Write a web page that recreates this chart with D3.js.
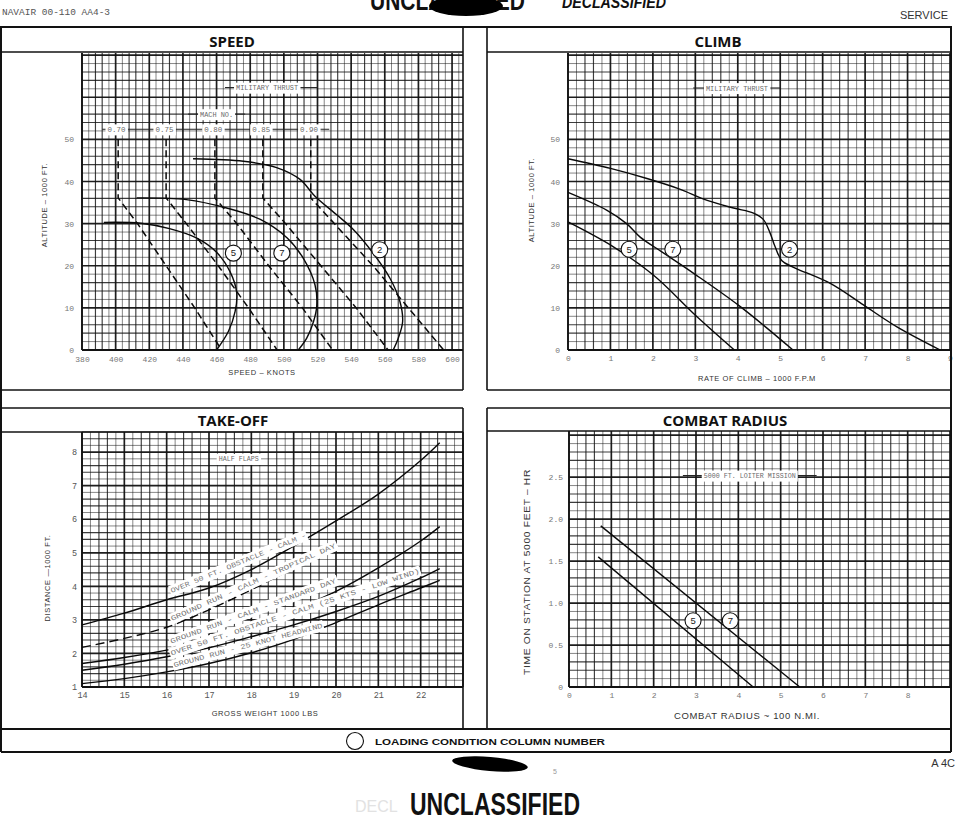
<!DOCTYPE html>
<html>
<head>
<meta charset="utf-8">
<script src="https://cdn.jsdelivr.net/npm/d3@7/dist/d3.min.js"></script>
<style>
html,body{margin:0;padding:0;background:#fff;}
svg{display:block;}
</style>
</head>
<body>
<svg id="chart" width="960" height="825"></svg>
<script>
// ================= DATA =================
// SPEED panel (speed in knots, altitude in 1000 ft)
const speedTickValues = [380,400,420,440,460,480,500,520,540,560,580,600];
const altitudeTickValues = [0,10,20,30,40,50];
const speedCurve5 = [[393,30.3],[415,30.1],[432,28.8],[448,26.6],[460,23.2],[468,18.6],[472,13.5],[471,9.1],[467,4.4],[460,0]];
const speedCurve7 = [[412.5,36.1],[442,35.7],[466,33.7],[486,31],[502,26.6],[511.5,21.8],[518.5,15.5],[519.6,10.7],[517.6,6.7],[513.6,2.8],[508.6,0]];
const speedCurve2 = [[446,45.4],[476,44.8],[495.7,43.3],[509.6,40.5],[518.5,36.5],[531.4,32.1],[541.3,28.6],[553,23],[563,17.1],[569,11.5],[570.6,6.7],[568,2.8],[565,0]];
const machNumbers = ["0.70","0.75","0.80","0.85","0.90"];
const machAltitudes = [50,36.1,30,20,10,0];
const machSpeeds = [
  [401.5,401.5,413,430,447,463],
  [430,430,442,461,479,496],
  [459,459,472,491,511,529],
  [487.5,487.5,501,522,543,562],
  [516,516,530,553,574,595]
];
const speedCircleLabels = [["5",470,23],["7",498.8,23],["2",557,23.8]];

// CLIMB panel (rate of climb 1000 fpm, altitude 1000 ft)
const climbTickValues = [0,1,2,3,4,5,6,7,8,9];
const climbCurve2 = [[0,45.4],[1.0,43.1],[1.86,40.7],[2.6,38.3],[3.28,35.5],[3.9,33.7],[4.37,32.5],[4.6,31.0],[4.76,27.8],[4.88,24.5],[5.04,21.2],[5.3,19.7],[6.18,15.8],[6.96,10.7],[7.75,5.5],[8.77,0]];
const climbCurve7 = [[0,37.4],[0.91,33.2],[1.38,30],[1.7,26.8],[2.21,23.3],[2.96,18.2],[4.06,10.3],[5.3,0]];
const climbCurve5 = [[0,30.4],[1.07,24.5],[2.01,17.8],[3.04,7.9],[3.92,0]];
const climbCircleLabels = [["5",1.44,23.9],["7",2.47,23.9],["2",5.22,23.9]];

// TAKE-OFF panel (gross weight 1000 lb, distance 1000 ft)
const weightTickValues = [14,15,16,17,18,19,20,21,22];
const distanceTickValues = [1,2,3,4,5,6,7,8];
const takeoffWeights = [14,15,16,17,18,19,20,21,22,22.45];
const over50Tropical = [2.85,3.2,3.6,3.95,4.5,5.2,5.95,6.75,7.75,8.28];
const groundRunTropicalWeights = [14,15,16,17,18,19,20];
const groundRunTropical = [2.18,2.45,2.78,3.3,3.9,4.55,5.25];
const groundRunStandard = [1.7,1.88,2.1,2.4,2.8,3.3,3.85,4.55,5.35,5.78];
const over50Wind = [1.5,1.68,1.9,2.17,2.5,2.85,3.25,3.7,4.25,4.53];
const groundRunHeadwind = [1.1,1.25,1.45,1.7,2.02,2.42,2.92,3.45,3.95,4.18];
const takeoffLabels = [
  "OVER 50 FT. OBSTACLE - CALM -",
  "GROUND RUN - CALM - TROPICAL DAY",
  "GROUND RUN - CALM - STANDARD DAY",
  "OVER 50 FT. OBSTACLE - CALM (25 KTS - LOW WIND)",
  "GROUND RUN - 25 KNOT HEADWIND"
];

// COMBAT RADIUS panel (radius 100 n.mi., time on station hr)
const radiusTickValues = [0,1,2,3,4,5,6,7,8];
const timeTickValues = [0,0.5,1.0,1.5,2.0,2.5];
const timeTickLabels = ["0","0.5","1.0","1.5","2.0","2.5"];
const combatLine7 = [[0.75,1.92],[5.45,0]];
const combatLine5 = [[0.69,1.55],[4.35,0]];
const combatCircleLabels = [["5",2.93,0.79],["7",3.81,0.79]];

// ================= DRAWING =================
const svg = d3.select("#chart");
const INK = "#121212";
const MONO = "'Liberation Mono','DejaVu Sans Mono',monospace";
const SANS = "'Liberation Sans','DejaVu Sans',Arial,sans-serif";

function makePanel(cfg) {
  const g = svg.append("g");
  const x = d3.scaleLinear().domain(cfg.xDomain).range(cfg.xRange);
  const y = d3.scaleLinear().domain(cfg.yDomain).range(cfg.yRange);
  const gridG = g.append("g");
  const nx = Math.floor((cfg.xDomain[1]-cfg.xDomain[0])/cfg.xMinor + 1e-6);
  const ny = Math.floor((cfg.yDomain[1]-cfg.yDomain[0])/cfg.yMinor + 1e-6);
  const xs = d3.range(0, nx+1).map(i => ({v: cfg.xDomain[0] + i*cfg.xMinor, major: i%5===0, half: i%5===2 || i%5===3}));
  const ys = d3.range(0, ny+1).map(i => ({v: cfg.yDomain[0] + i*cfg.yMinor, major: i%5===0, half: i%5===2 || i%5===3}));
  gridG.selectAll("line.vx").data(xs).enter().append("line")
    .attr("x1", d => x(d.v)).attr("x2", d => x(d.v))
    .attr("y1", cfg.yRange[0]).attr("y2", cfg.yRange[1])
    .attr("stroke", INK)
    .attr("stroke-width", d => d.major ? 1.7 : (d.half ? 1.15 : 0.85))
    .attr("stroke-opacity", d => d.major ? 0.95 : (d.half ? 0.82 : 0.6));
  gridG.selectAll("line.hy").data(ys).enter().append("line")
    .attr("y1", d => y(d.v)).attr("y2", d => y(d.v))
    .attr("x1", cfg.xRange[0]).attr("x2", cfg.xRange[1])
    .attr("stroke", INK)
    .attr("stroke-width", d => d.major ? 1.7 : (d.half ? 1.15 : 0.85))
    .attr("stroke-opacity", d => d.major ? 0.95 : (d.half ? 0.82 : 0.6));
  g.append("line").attr("x1", cfg.xRange[0]).attr("x2", cfg.xRange[0]).attr("y1", cfg.yRange[0]).attr("y2", cfg.yRange[1]).attr("stroke", INK).attr("stroke-width", 1.6);
  g.append("line").attr("x1", cfg.xRange[0]).attr("x2", cfg.xRange[1]).attr("y1", cfg.yRange[0]).attr("y2", cfg.yRange[0]).attr("stroke", INK).attr("stroke-width", 1.8);

  const ax = g.append("g").attr("transform", `translate(0,${cfg.yRange[0]})`)
    .call(d3.axisBottom(x).tickValues(cfg.xTicks).tickSize(0).tickPadding(cfg.xPad).tickFormat(cfg.xFormat || (d => d)));
  ax.select(".domain").remove();
  ax.selectAll("text").attr("font-family", cfg.tickFont || MONO).attr("font-size", cfg.tickSize || 8).attr("fill", cfg.tickColor || "#777");
  const ay = g.append("g").attr("transform", `translate(${cfg.xRange[0]},0)`)
    .call(d3.axisLeft(y).tickValues(cfg.yTicks).tickSize(0).tickPadding(cfg.yPad).tickFormat(cfg.yFormat || (d => d)));
  ay.select(".domain").remove();
  ay.selectAll("text").attr("font-family", cfg.tickFont || MONO).attr("font-size", cfg.tickSize || 8).attr("fill", cfg.tickColor || "#777");
  return {g, x, y};
}

function curve(p, pts, opts) {
  opts = opts || {};
  const line = d3.line().x(d => p.x(d[0])).y(d => p.y(d[1])).curve(opts.linear ? d3.curveLinear : d3.curveCatmullRom.alpha(0.5));
  p.g.append("path").attr("d", line(pts)).attr("fill", "none").attr("stroke", "#0a0a0a")
    .attr("stroke-width", opts.width || 1.4).attr("stroke-dasharray", opts.dash || null);
}

function circled(p, labels) {
  labels.forEach(([t, xv, yv]) => {
    p.g.append("circle").attr("cx", p.x(xv)).attr("cy", p.y(yv)).attr("r", 8)
      .attr("fill", "#fff").attr("stroke", "#111").attr("stroke-width", 1.1);
    p.g.append("text").attr("x", p.x(xv)).attr("y", p.y(yv) + 3.3).attr("text-anchor", "middle")
      .attr("font-family", SANS).attr("font-size", 9.5).attr("fill", "#222").text(t);
  });
}

function monoLabel(p, txt, xv, yv, opts) {
  opts = opts || {};
  const g = p.g.append("g").attr("transform", `translate(${p.x(xv)},${p.y(yv)}) rotate(${opts.angle || 0})`);
  const r = g.append("rect").attr("fill", "#fff");
  const t = g.append("text")
    .attr("text-anchor", "middle").attr("dy", "0.35em")
    .attr("font-family", MONO).attr("font-size", opts.size || 7.5)
    .attr("fill", opts.color || "#6a6a6a")
    .text(txt);
  if (opts.len) t.attr("textLength", opts.len).attr("lengthAdjust", "spacingAndGlyphs");
  const bb = t.node().getBBox();
  const pad = opts.pad == null ? 2 : opts.pad;
  r.attr("x", bb.x - pad).attr("y", bb.y - 1.5).attr("width", bb.width + 2*pad).attr("height", bb.height + 3);
  return t;
}

function guideLine(p, x0, x1, yv) {
  p.g.append("line").attr("x1", p.x(x0)).attr("x2", p.x(x1)).attr("y1", p.y(yv)).attr("y2", p.y(yv))
    .attr("stroke", "#222").attr("stroke-width", 1);
}

function axisTitle(txt, xPos, yPos, rot, size, len) {
  const t = svg.append("text")
    .attr("transform", `translate(${xPos},${yPos}) rotate(${rot})`)
    .attr("text-anchor", "middle").attr("font-family", SANS).attr("font-size", size)
    .attr("fill", "#333").attr("letter-spacing", 0.6).text(txt);
  if (len) t.attr("textLength", len).attr("lengthAdjust", "spacingAndGlyphs");
}

// ---------- SPEED ----------
const sp = makePanel({xDomain:[380,606.5], xRange:[82,463], yDomain:[0,70.5], yRange:[350,53],
  xMinor:4, yMinor:2, xTicks:speedTickValues, yTicks:altitudeTickValues, xPad:6, yPad:8});
machSpeeds.forEach(s => curve(sp, s.map((v,i) => [v, machAltitudes[i]]), {linear:true, dash:"7,4", width:1.5}));
curve(sp, speedCurve5);
curve(sp, speedCurve7);
curve(sp, speedCurve2);
guideLine(sp, 465, 520, 62.3);
monoLabel(sp, "MILITARY THRUST", 490, 62.3, {len:62});
guideLine(sp, 443, 477, 56);
monoLabel(sp, "MACH NO.", 460, 56, {len:33});
guideLine(sp, 392, 527, 52.4);
machNumbers.forEach((m, i) => monoLabel(sp, m, machSpeeds[i][0] - 1, 52.4, {len:18}));
circled(sp, speedCircleLabels);

// ---------- CLIMB ----------
const cl = makePanel({xDomain:[0,9], xRange:[568,950], yDomain:[0,70.5], yRange:[350,53],
  xMinor:0.2, yMinor:2, xTicks:climbTickValues, yTicks:altitudeTickValues, xPad:5, yPad:8});
curve(cl, climbCurve2);
curve(cl, climbCurve7);
curve(cl, climbCurve5);
guideLine(cl, 2.95, 5.0, 62.2);
monoLabel(cl, "MILITARY THRUST", 3.98, 62.2, {len:62});
circled(cl, climbCircleLabels);

// ---------- TAKE-OFF ----------
const to = makePanel({xDomain:[14,23], xRange:[82,463], yDomain:[1,8.6], yRange:[687,432],
  xMinor:0.2, yMinor:0.2, xTicks:weightTickValues, yTicks:distanceTickValues, xPad:5, yPad:5,
  tickColor:"#555", tickSize:8.5});
curve(to, takeoffWeights.map((w,i) => [w, over50Tropical[i]]));
curve(to, groundRunTropicalWeights.map((w,i) => [w, groundRunTropical[i]]), {dash:"9,5"});
curve(to, takeoffWeights.map((w,i) => [w, groundRunStandard[i]]));
curve(to, takeoffWeights.map((w,i) => [w, over50Wind[i]]));
curve(to, takeoffWeights.map((w,i) => [w, groundRunHeadwind[i]]));
monoLabel(to, "HALF FLAPS", 17.7, 7.8, {len:40});
monoLabel(to, takeoffLabels[0], 17.69, 4.70, {angle:-22.5, len:146, size:7, color:"#777", pad:1});
monoLabel(to, takeoffLabels[1], 18.04, 4.13, {angle:-24.2, len:180, size:7, color:"#777", pad:1});
monoLabel(to, takeoffLabels[2], 18.04, 3.27, {angle:-20.3, len:176, size:7, color:"#777", pad:1});
monoLabel(to, takeoffLabels[3], 19.03, 3.24, {angle:-18.4, len:262, size:7, color:"#777", pad:1});
monoLabel(to, takeoffLabels[4], 17.92, 2.25, {angle:-14.9, len:154, size:7, color:"#777", pad:1});

// ---------- COMBAT RADIUS ----------
const cr = makePanel({xDomain:[0,9], xRange:[569,950], yDomain:[0,3.05], yRange:[687,431],
  xMinor:0.2, yMinor:0.1, xTicks:radiusTickValues, yTicks:timeTickValues, xPad:5, yPad:6,
  yFormat:(d,i) => timeTickLabels[i]});
curve(cr, combatLine7, {linear:true});
curve(cr, combatLine5, {linear:true});
guideLine(cr, 2.69, 5.85, 2.52);
monoLabel(cr, "5000 FT. LOITER MISSION", 4.27, 2.52, {len:92});
circled(cr, combatCircleLabels);

// ---------- AXIS TITLES ----------
axisTitle("SPEED \u2013 KNOTS", 262, 375, 0, 7.5);
axisTitle("ALTITUDE \u2013 1000 FT.", 47, 205, -90, 7.5);
axisTitle("RATE OF CLIMB \u2013 1000 F.P.M", 757, 381, 0, 7.5);
axisTitle("ALTITUDE \u2013 1000 FT.", 534, 200, -90, 7.5);
axisTitle("GROSS WEIGHT   1000 LBS", 265, 716, 0, 7.5);
axisTitle("DISTANCE \u20141000 FT.", 50, 578, -90, 7.5);
axisTitle("COMBAT RADIUS ~ 100 N.MI.", 747, 719, 0, 9, 146);
axisTitle("TIME ON STATION AT 5000 FEET \u2013 HR", 530, 572, -90, 9, 206);

// ---------- FRAMES ----------
const frame = svg.append("g").attr("stroke", INK).attr("fill", "none");
function ln(x1,y1,x2,y2,w){ frame.append("line").attr("x1",x1).attr("y1",y1).attr("x2",x2).attr("y2",y2).attr("stroke-width", w||1.6); }
ln(0,27,952,27,1.8);
ln(1,27,1,752,2);
ln(951,27,951,752,2);
ln(463,27,463,390); ln(487,27,487,390);
ln(1,52,463,52); ln(487,52,951,52);
ln(1,390,463,390); ln(487,390,951,390);
ln(1,408,463,408); ln(487,408,951,408);
ln(463,408,463,729); ln(487,408,487,729);
ln(1,432,463,432); ln(487,431,951,431);
ln(1,729,951,729,1.8);
ln(1,752,951,752,1.8);

[["SPEED",232,47],["CLIMB",718,47],["TAKE-OFF",233,426],["COMBAT RADIUS",725,426]].forEach(([t,x,y]) => {
  svg.append("text").attr("x",x).attr("y",y).attr("text-anchor","middle")
    .attr("font-family","'Open Sans','Liberation Sans',sans-serif").attr("font-weight","bold")
    .attr("font-size",15).attr("fill","#111").text(t);
});

// legend strip
svg.append("circle").attr("cx",355).attr("cy",741).attr("r",8.5).attr("fill","none").attr("stroke","#111").attr("stroke-width",1.1);
svg.append("text").attr("x",375).attr("y",745).attr("font-family",SANS).attr("font-weight","bold")
  .attr("font-size",9.5).attr("fill","#111").attr("textLength",230).attr("lengthAdjust","spacingAndGlyphs")
  .text("LOADING CONDITION COLUMN NUMBER");

// header
svg.append("text").attr("x",2).attr("y",15).attr("font-family",MONO).attr("font-size",8.5).attr("fill","#555")
  .attr("textLength",108).attr("lengthAdjust","spacingAndGlyphs").text("NAVAIR 00-110  AA4-3");
svg.append("text").attr("x",370).attr("y",10).attr("font-family","'Liberation Sans Narrow','Liberation Sans',sans-serif")
  .attr("font-weight","bold").attr("font-size",28).attr("fill","#111")
  .attr("textLength",155).attr("lengthAdjust","spacingAndGlyphs").text("UNCLASSIFIED");
svg.append("ellipse").attr("cx",466).attr("cy",6).attr("rx",37).attr("ry",10).attr("fill","#000");
svg.append("text").attr("x",562).attr("y",8).attr("font-family","'Liberation Sans',sans-serif")
  .attr("font-weight","bold").attr("font-style","italic").attr("font-size",16).attr("fill","#111")
  .attr("textLength",104).attr("lengthAdjust","spacingAndGlyphs").text("DECLASSIFIED");
svg.append("text").attr("x",948).attr("y",19).attr("text-anchor","end").attr("font-family",SANS)
  .attr("font-size",11).attr("fill","#333").text("SERVICE");

// footer
svg.append("ellipse").attr("cx",490).attr("cy",764).attr("rx",38).attr("ry",7)
  .attr("transform","rotate(5,490,764)").attr("fill","#000");
svg.append("text").attr("x",553).attr("y",774).attr("font-family",SANS).attr("font-size",7).attr("fill","#999").text("5");
svg.append("text").attr("x",955).attr("y",767).attr("text-anchor","end").attr("font-family",SANS)
  .attr("font-size",11).attr("fill","#333").text("A 4C");
svg.append("text").attr("x",355).attr("y",812).attr("font-family",SANS).attr("font-size",16).attr("fill","#e2e2e2").text("DECL");
svg.append("text").attr("x",495).attr("y",815).attr("text-anchor","middle")
  .attr("font-family","'Liberation Sans Narrow','Liberation Sans',sans-serif").attr("font-weight","bold")
  .attr("font-size",32).attr("fill","#111").attr("textLength",170).attr("lengthAdjust","spacingAndGlyphs")
  .text("UNCLASSIFIED");
</script>
</body>
</html>
